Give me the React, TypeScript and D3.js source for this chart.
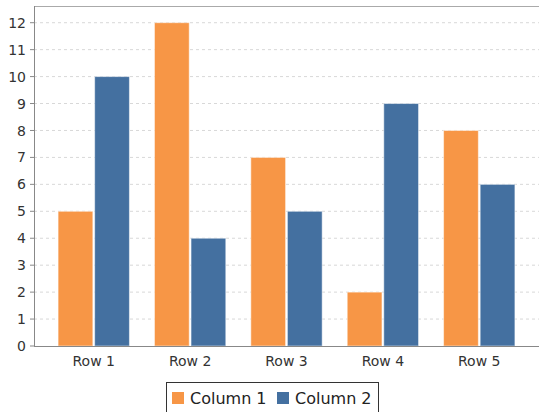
import React from "react";
import * as d3 from "d3";

const categories = ["Row 1", "Row 2", "Row 3", "Row 4", "Row 5"];
const seriesNames = ["Column 1", "Column 2"];
const column1 = [5, 12, 7, 2, 8];
const column2 = [10, 4, 5, 9, 6];
const yTicks = [0, 1, 2, 3, 4, 5, 6, 7, 8, 9, 10, 11, 12];
const colors = ["#F79646", "#4470A0"];

const W = 539, H = 412;
const left = 34, right = 539, top = 6, bottom = 346;

export default function App() {
  const values = [column1, column2];
  const x = d3.scaleBand<string>().domain(categories).range([left, right]).paddingInner(0.26).paddingOuter(0.25);
  const xs = d3.scaleBand<string>().domain(seriesNames).range([0, x.bandwidth()]).paddingInner(0.05);
  const y = d3.scaleLinear().domain([0, 12.62]).range([bottom, top]);
  const font = "'DejaVu Sans', sans-serif";
  return (
    <svg width={W} height={H} style={{ position: "absolute", left: 0, top: 0, background: "#fff" }} fontFamily={font}>
      <rect x={0} y={0} width={W} height={H} fill="#fff" />
      {yTicks.map((t) => (
        <g key={t}>
          {t > 0 && (
            <line x1={left} x2={right} y1={y(t)} y2={y(t)} stroke="#d8d8d8" strokeDasharray="3,3" strokeWidth={1} />
          )}
          <line x1={left - 4} x2={left} y1={y(t)} y2={y(t)} stroke="#888" />
          <text x={left - 8} y={y(t)} dy="0.36em" textAnchor="end" fontSize={14} fill="#333">{t}</text>
        </g>
      ))}
      {categories.map((c, i) => (
        <g key={c}>
          {seriesNames.map((s, j) => {
            const v = values[j][i];
            return (
              <rect key={s} x={(x(c) as number) + (xs(s) as number)} y={y(v)} width={xs.bandwidth()} height={y(0) - y(v)}
                fill={colors[j]} stroke="#ffffff" strokeOpacity={0.5} strokeWidth={1} />
            );
          })}
          <text x={(x(c) as number) + x.bandwidth() / 2} y={bottom + 20} textAnchor="middle" fontSize={14} fill="#333">{c}</text>
        </g>
      ))}
      <line x1={left} x2={right} y1={top + 0.5} y2={top + 0.5} stroke="#aaa" />
      <line x1={left + 0.5} x2={left + 0.5} y1={top} y2={bottom} stroke="#888" />
      <line x1={left} x2={right} y1={bottom + 0.5} y2={bottom + 0.5} stroke="#888" />
      <g>
        <rect x={166.5} y={382.5} width={212} height={34} fill="#fff" stroke="#333" />
        <rect x={172} y={392} width={12} height={12} fill={colors[0]} />
        <text x={190} y={398} dy="0.35em" fontSize={16} fill="#222">{seriesNames[0]}</text>
        <rect x={277} y={392} width={12} height={12} fill={colors[1]} />
        <text x={295} y={398} dy="0.35em" fontSize={16} fill="#222">{seriesNames[1]}</text>
      </g>
    </svg>
  );
}
